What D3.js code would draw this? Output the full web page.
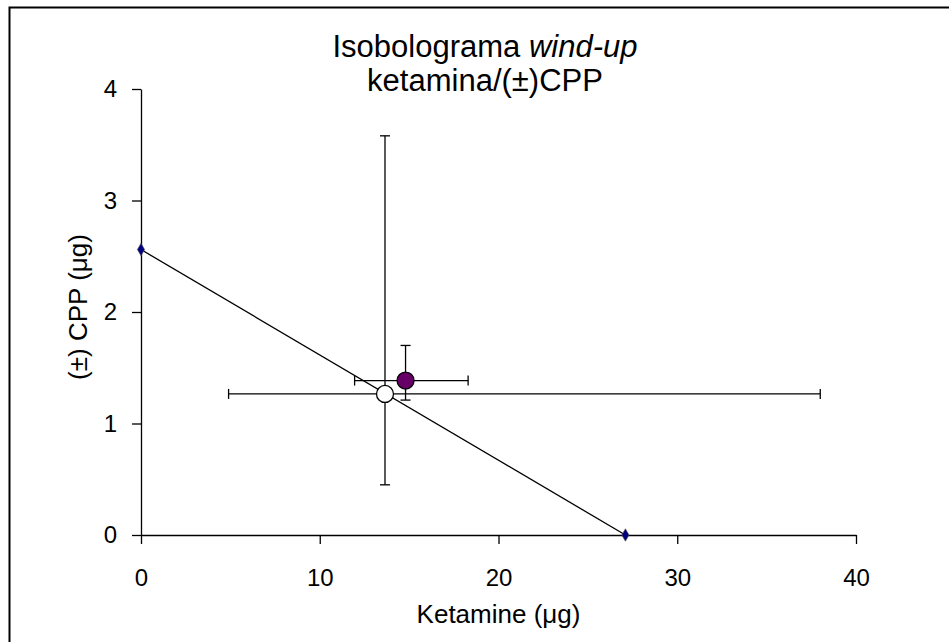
<!DOCTYPE html>
<html>
<head>
<meta charset="utf-8">
<script src="https://cdn.jsdelivr.net/npm/d3@7"></script>
<style>
  body { margin: 0; background: #fff; }
  text { font-family: "Liberation Sans", Arial, sans-serif; fill: #000; }
</style>
</head>
<body>
<svg id="chart" width="949" height="642"></svg>
<script>
// isobole (additive line) end points: ketamine alone, CPP alone
const isoboleX = [0, 27.1];
const isoboleY = [2.56, 0];

// theoretical additive point (open) and experimental point (filled)
const pointNames = ["theoretical", "experimental"];
const pointX = [13.65, 14.8];
const pointY = [1.265, 1.385];
const errXLow = [4.9, 11.95];
const errXHigh = [38.0, 18.3];
const errYLow = [0.45, 1.21];
const errYHigh = [3.58, 1.70];

const xTicks = [0, 10, 20, 30, 40];
const yTicks = [0, 1, 2, 3, 4];

const svg = d3.select("#chart");

// outer frame (runs off the bottom/right edge like the original)
svg.append("rect")
    .attr("x", 9.5).attr("y", 7.5)
    .attr("width", 960).attr("height", 660)
    .attr("fill", "none").attr("stroke", "#000").attr("stroke-width", 2);

const x = d3.scaleLinear().domain([0, 40]).range([141, 856]);
const y = d3.scaleLinear().domain([0, 4]).range([535, 89]);

// axes
const xAxis = svg.append("g")
    .attr("transform", `translate(0,${y(0)})`)
    .call(d3.axisBottom(x).tickValues(xTicks).tickFormat(d3.format("d"))
        .tickSize(9).tickSizeOuter(0));
const yAxis = svg.append("g")
    .attr("transform", `translate(${x(0)},0)`)
    .call(d3.axisLeft(y).tickValues(yTicks).tickFormat(d3.format("d"))
        .tickSize(9).tickSizeOuter(0).tickPadding(15));

[xAxis, yAxis].forEach(g => {
    g.attr("font-size", null).attr("font-family", null);
    g.select(".domain").attr("stroke", "#000").attr("stroke-width", 1.3);
    g.selectAll(".tick line").attr("stroke", "#000").attr("stroke-width", 1.3);
    g.selectAll(".tick text").style("font-size", "24px");
});
xAxis.selectAll(".tick text").attr("y", 43).attr("dy", "0.35em");

// title
const title = svg.append("text")
    .attr("x", 485).attr("y", 57)
    .attr("text-anchor", "middle")
    .style("font-size", "31px");
title.append("tspan").text("Isobolograma ");
title.append("tspan").style("font-style", "italic").text("wind-up");
svg.append("text")
    .attr("x", 485).attr("y", 91)
    .attr("text-anchor", "middle")
    .style("font-size", "31px")
    .text("ketamina/(±)CPP");

// axis titles
svg.append("text")
    .attr("x", x(20)).attr("y", 623)
    .attr("text-anchor", "middle")
    .style("font-size", "26px")
    .text("Ketamine (μg)");
svg.append("text")
    .attr("transform", `translate(87,307) rotate(-90)`)
    .attr("text-anchor", "middle")
    .style("font-size", "26px")
    .text("(±) CPP (μg)");

// isobole
const iso = isoboleX.map((v, i) => [v, isoboleY[i]]);
svg.append("path")
    .datum(iso)
    .attr("fill", "none").attr("stroke", "#000").attr("stroke-width", 1.3)
    .attr("d", d3.line().x(d => x(d[0])).y(d => y(d[1])));
svg.selectAll(".iso-pt")
    .data(iso)
    .join("path")
    .attr("class", "iso-pt")
    .attr("transform", d => `translate(${x(d[0])},${y(d[1])})`)
    .attr("d", d3.symbol(d3.symbolDiamond, 45))
    .attr("fill", "#000080").attr("stroke", "#555").attr("stroke-width", 0.6);

// error bars
const cap = 5;
const eb = svg.append("g").attr("stroke", "#000").attr("stroke-width", 1.3).attr("fill", "none");
pointNames.forEach((n, i) => {
    const cx = x(pointX[i]), cy = y(pointY[i]);
    const x0 = x(errXLow[i]), x1 = x(errXHigh[i]);
    const y0 = y(errYLow[i]), y1 = y(errYHigh[i]);
    eb.append("line").attr("x1", x0).attr("x2", x1).attr("y1", cy).attr("y2", cy);
    eb.append("line").attr("x1", x0).attr("x2", x0).attr("y1", cy - cap).attr("y2", cy + cap);
    eb.append("line").attr("x1", x1).attr("x2", x1).attr("y1", cy - cap).attr("y2", cy + cap);
    eb.append("line").attr("x1", cx).attr("x2", cx).attr("y1", y0).attr("y2", y1);
    eb.append("line").attr("x1", cx - cap).attr("x2", cx + cap).attr("y1", y0).attr("y2", y0);
    eb.append("line").attr("x1", cx - cap).attr("x2", cx + cap).attr("y1", y1).attr("y2", y1);
});

// points
svg.selectAll(".pt")
    .data(pointNames)
    .join("circle")
    .attr("class", "pt")
    .attr("cx", (d, i) => x(pointX[i]))
    .attr("cy", (d, i) => y(pointY[i]))
    .attr("r", 8.5)
    .attr("fill", d => d === "experimental" ? "#660066" : "#fff")
    .attr("stroke", "#000").attr("stroke-width", 1.3);
</script>
</body>
</html>
